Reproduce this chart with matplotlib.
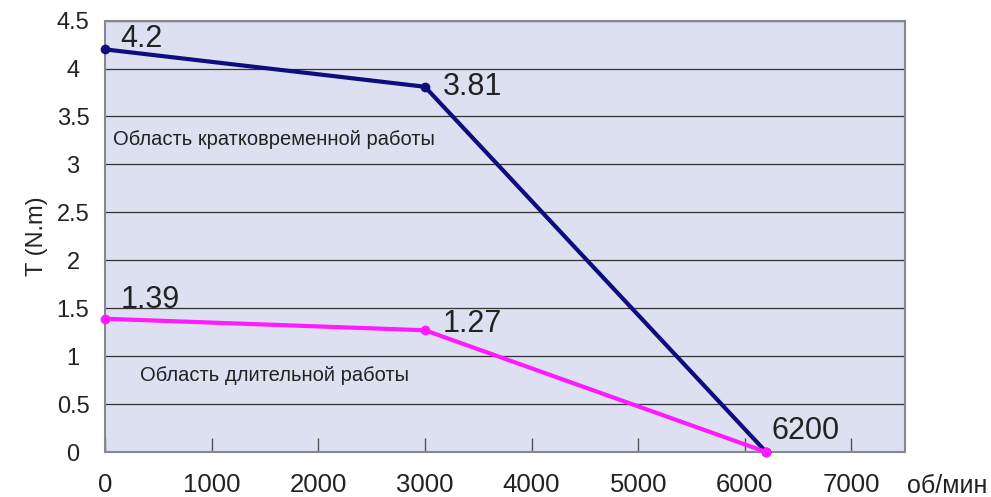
import matplotlib.pyplot as plt

plt.rcParams["font.family"] = ["Liberation Sans", "DejaVu Sans"]

speed = [0, 3000, 6200]
peak_torque = [4.2, 3.81, 0]
rated_torque = [1.39, 1.27, 0]
x_ticks = [0, 1000, 2000, 3000, 4000, 5000, 6000, 7000]
y_ticks = [0, 0.5, 1, 1.5, 2, 2.5, 3, 3.5, 4, 4.5]
y_tick_labels = ["0", "0.5", "1", "1.5", "2", "2.5", "3", "3.5", "4", "4.5"]

TXT = "#222222"

fig = plt.figure(figsize=(9.91, 4.97), dpi=100)
ax = fig.add_axes([0.106, 0.0905, 0.807, 0.868])
ax.set_facecolor("#dde0f1")

ax.set_xlim(0, 7500)
ax.set_ylim(0, 4.5)
ax.set_xticks(x_ticks)
ax.set_yticks(y_ticks)
ax.set_yticklabels(y_tick_labels)
ax.yaxis.grid(True, color="#333333", linewidth=0.9)
ax.set_axisbelow(True)

ax.tick_params(axis="x", direction="in", length=10, width=1, color="#555555",
               labelsize=18.5, pad=15, labelcolor=TXT)
ax.tick_params(axis="y", length=0, labelsize=17, pad=23, labelcolor=TXT)
for lbl in ax.get_yticklabels():
    lbl.set_horizontalalignment("center")
for side in ["top", "right", "bottom", "left"]:
    ax.spines[side].set_color("#888888")
    ax.spines[side].set_linewidth(1.5)

ax.plot(speed, peak_torque, color="#0d0d80", linewidth=3, marker="o",
        markersize=6, clip_on=False, zorder=3)
ax.plot(speed, rated_torque, color="#ff1aff", linewidth=3, marker="o",
        markersize=6, clip_on=False, zorder=3)

val_font = dict(fontsize=22, color=TXT)
ax.text(140, 4.15, "4.2", va="bottom", **val_font)
ax.text(3170, 3.81, "3.81", va="center", **val_font)
ax.text(150, 1.43, "1.39", va="bottom", **val_font)
ax.text(3170, 1.34, "1.27", va="center", **val_font)
ax.text(6250, 0.06, "6200", va="bottom", **val_font)

ax.text(75, 3.26, "Область кратковременной работы", fontsize=14.5, color=TXT,
        va="center")
ax.text(330, 0.8, "Область длительной работы", fontsize=14.5, color=TXT,
        va="center")

ax.set_ylabel("T (N.m)", fontsize=17, color=TXT, labelpad=6)
fig.text(0.915, 0.022, "об/мин", fontsize=18, color=TXT, ha="left", va="center")

fig.savefig("out.png", dpi=100)
